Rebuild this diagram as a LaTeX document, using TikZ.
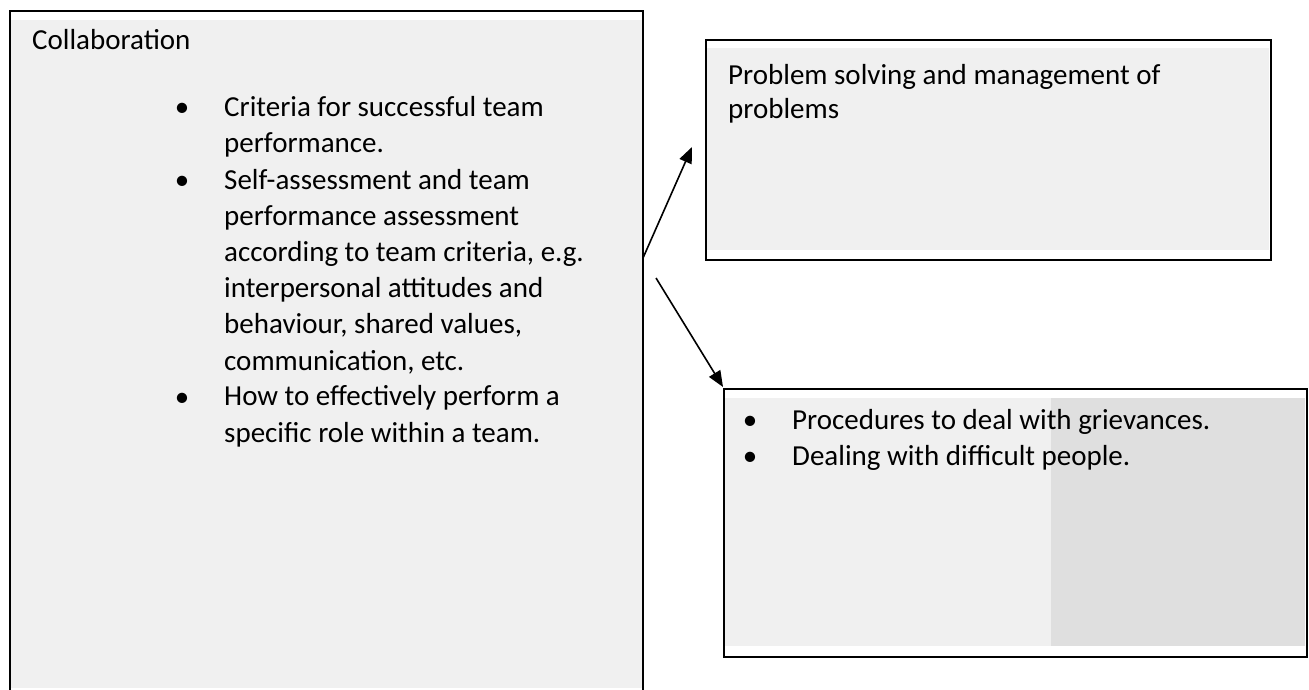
\documentclass[tikz,border=0pt]{standalone}
\usepackage{fontspec}
\setmainfont{Carlito}
\usetikzlibrary{arrows.meta}
\definecolor{boxfill}{HTML}{F0F0F0}
\definecolor{boxdark}{HTML}{DFDFDF}
\tikzset{
  frame/.style={draw=black, line width=1.8pt},
  txt/.style={inner sep=0pt, anchor=base west, align=left, font=\fontsize{29}{36.1}\selectfont},
  bul/.style={inner sep=0pt, anchor=base, font=\fontsize{29}{36}\selectfont},
  conn/.style={draw=black, line width=1.6pt, -{Triangle[length=16pt,width=13pt]}}
}
\begin{document}
\begin{tikzpicture}[x=1pt,y=-1pt]
\useasboundingbox (0,0) rectangle (1309,690);
% left box
\fill[boxfill] (11,20) rectangle (642,688);
\draw[frame] (10,691) -- (10,11) -- (643,11) -- (643,691);
\coordinate (lbr) at (643,258);
\coordinate (lbs) at (656,278);
% top right box
\fill[boxfill] (706,48) rectangle (1269,250);
\node[frame, minimum width=565pt, minimum height=220pt, anchor=north west, inner sep=0pt] (pb) at (705,39) {};
\coordinate (pbin) at (692,147);
% bottom right box
\fill[boxfill] (724,398) rectangle (1051,646);
\fill[boxdark] (1051,398) rectangle (1305,646);
\node[frame, minimum width=583pt, minimum height=268pt, anchor=north west, inner sep=0pt] (gr) at (723,388) {};
\coordinate (grin) at (723,387);
% texts
\node[txt] (t0) at (32,50) {Collaboration};
\node[bul] (b1) at (182,117) {•};
\node[txt] (t1) at (224,153) {Criteria for successful team\\performance.};
\node[bul] (b2) at (182,189) {•};
\node[txt] (t2) at (224,370) {Self-assessment and team\\performance assessment\\according to team criteria, e.g.\\interpersonal attitudes and\\behaviour, shared values,\\communication, etc.};
\node[bul] (b3) at (182,406) {•};
\node[txt] (t3) at (224,442) {How to effectively perform a\\specific role within a team.};
\node[txt, font=\fontsize{29}{34}\selectfont] (t4) at (728,119) {Problem solving and management of\\problems};
\node[bul] (b5) at (750,429) {•};
\node[txt] (t5) at (792,429) {Procedures to deal with grievances.};
\node[bul] (b6) at (750,465) {•};
\node[txt] (t6) at (792,465) {Dealing with difficult people.};
% connectors
\draw[conn] (lbr) -- (pbin);
\draw[conn] (lbs) -- (grin);
\end{tikzpicture}
\end{document}
